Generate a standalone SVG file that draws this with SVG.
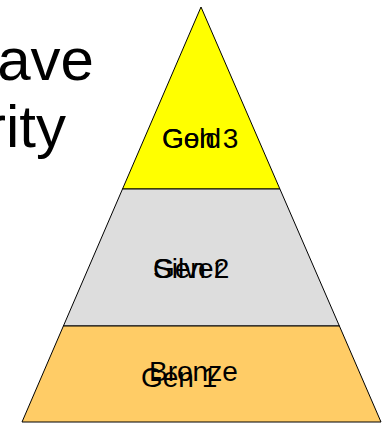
<svg xmlns="http://www.w3.org/2000/svg" width="384" height="424" viewBox="0 0 384 424">
<style>
.layer{stroke:#000;stroke-width:1}
.lbl{font-family:"Liberation Sans",Arial,sans-serif;font-size:28px;fill:#000}
.big{font-family:"Liberation Sans",Arial,sans-serif;font-size:60px;fill:#000}
</style>
<rect width="384" height="424" fill="#fff"/>
<g id="title">
<text class="big" x="94" y="80" text-anchor="end">ave</text>
<text class="big" x="66" y="147" text-anchor="end">rity</text>
</g>
<g id="gold">
<polygon class="layer" points="201,7 279.9,189 122.5,189" fill="#FFFF00"/>
<text class="lbl" x="162" y="148">Gold</text>
<text class="lbl" x="162" y="148">Gen 3</text>
</g>
<g id="silver">
<polygon class="layer" points="122.5,189 279.9,189 339.4,326 63.4,326" fill="#DDDDDD"/>
<text class="lbl" x="153" y="278">Silver</text>
<text class="lbl" x="153" y="278">Gen 2</text>
</g>
<g id="bronze">
<polygon class="layer" points="63.4,326 339.4,326 381,422 22,422" fill="#FFCC66"/>
<text class="lbl" x="149" y="381">Bronze</text>
<text class="lbl" x="141" y="387">Gen 1</text>
</g>
<g id="connectors"/>
</svg>
